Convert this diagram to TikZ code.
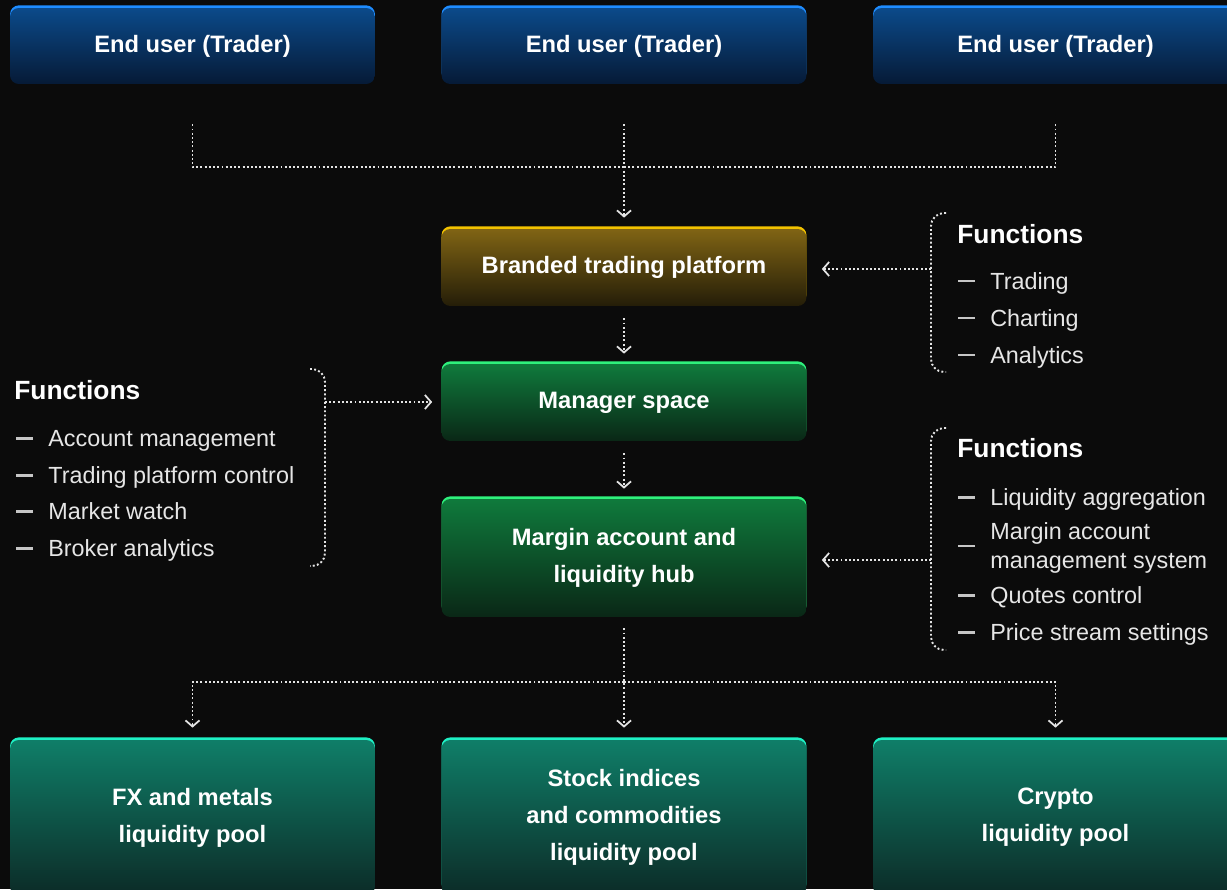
\documentclass[tikz,border=0pt]{standalone}
\usepackage{fontspec}
\setmainfont{Liberation Sans}
\usetikzlibrary{arrows.meta,positioning,calc}

\definecolor{bg}{HTML}{0B0B0B}
\definecolor{usertop}{HTML}{0B4A8A}
\definecolor{userbot}{HTML}{061A36}
\definecolor{userrim}{HTML}{1E8CFF}
\definecolor{goldtop}{HTML}{806414}
\definecolor{goldbot}{HTML}{241D08}
\definecolor{goldrim}{HTML}{F2C200}
\definecolor{greentop}{HTML}{0F7A3C}
\definecolor{greenbot}{HTML}{0A2716}
\definecolor{greenrim}{HTML}{2EF07C}
\definecolor{tealtop}{HTML}{0F7E68}
\definecolor{tealbot}{HTML}{0C2B27}
\definecolor{tealrim}{HTML}{1EF0C4}
\definecolor{linkcol}{HTML}{E4E4E4}
\definecolor{itemcol}{HTML}{E6E6E6}

\begin{document}
\begin{tikzpicture}[x=0.02cm,y=-0.02cm,
  % common options for the boxes:
  box/.style = {rounded corners=5pt, minimum width=7.3cm, align=center,
              text=white, inner sep=0, font=\bfseries\fontsize{13.5}{21}\selectfont},
  userbox/.style = {box, minimum height=1.52cm, top color=usertop, bottom color=userbot,
              preaction={fill=userrim, transform canvas={yshift=1.5pt}}},
  goldbox/.style = {box, minimum height=1.54cm, top color=goldtop, bottom color=goldbot,
              preaction={fill=goldrim, transform canvas={yshift=1.5pt}}},
  greenbox/.style = {box, top color=greentop, bottom color=greenbot,
              preaction={fill=greenrim, transform canvas={yshift=1.5pt}}},
  poolbox/.style = {box, minimum height=3.1cm, top color=tealtop, bottom color=tealbot,
              preaction={fill=tealrim, transform canvas={yshift=1.5pt}}},
  % common options for the connectors:
  link/.style = {draw=linkcol, line width=1.1pt, dash pattern=on 1.1pt off 1.3pt},
  arrowed/.style = {-{Straight Barb[length=3.5pt,width=8pt,line width=1pt]}},
  % common options for the function lists:
  title/.style = {anchor=base west, inner sep=0, text=white,
              font=\bfseries\fontsize{15}{17}\selectfont},
  item/.style = {anchor=base west, inner sep=0, text=itemcol,
              font=\fontsize{13.3}{17}\selectfont},
  dashmark/.style = {draw=gray!45!white, line width=1.7pt}]
\path[use as bounding box, fill=bg] (0,0) rectangle (1227,889);
% boxes
\node[userbox] (u1) at (192.5,46) {End user (Trader)};
\node[userbox] (u2) at (624,46) {End user (Trader)};
\node[userbox] (u3) at (1055.5,46) {End user (Trader)};
\node[goldbox] (btp) at (624,267.5) {Branded trading platform};
\node[greenbox, minimum height=1.54cm] (ms) at (624,402.5) {Manager space};
\node[greenbox, minimum height=2.36cm] (hub) at (624,558) {Margin account and\\liquidity hub};
\node[poolbox] (p1) at (192.5,817.5) {FX and metals\\liquidity pool};
\node[poolbox] (p2) at (624,817.5) {Stock indices\\and commodities\\liquidity pool};
\node[poolbox] (p3) at (1055.5,817.5) {Crypto\\liquidity pool};
% connectors
\coordinate (join) at (624,167);
\coordinate (split) at (624,682);
\draw[link, shorten <=0.8cm] (u1.south) |- (join);
\draw[link, shorten <=0.8cm] (u3.south) |- (join);
\draw[link, arrowed, shorten <=0.8cm, shorten >=0.22cm] (u2.south) -- (btp.north);
\draw[link, arrowed, shorten <=0.24cm, shorten >=0.2cm] (btp.south) -- (ms.north);
\draw[link, arrowed, shorten <=0.24cm, shorten >=0.2cm] (ms.south) -- (hub.north);
\draw[link, arrowed, shorten <=0.22cm, shorten >=0.24cm] (hub.south) -- (p2.north);
\draw[link, arrowed, shorten >=0.24cm] (split) -| (p1.north);
\draw[link, arrowed, shorten >=0.24cm] (split) -| (p3.north);
% functions of the platform
\node[title] (fr1) at (957,243) {Functions};
\node[item] (fr1a) at (990,289) {Trading};
\node[item] (fr1b) at (990,326) {Charting};
\node[item] (fr1c) at (990,363) {Analytics};
\draw[link, rounded corners=0.26cm] (946,213) -- (931,213) -- (931,372) -- (946,372);
\coordinate (fb1) at (931,269);
\draw[link, arrowed, shorten >=0.3cm] (fb1) -- (fb1 -| btp.east);
% functions of the manager space
\node[title] (fl) at (14,399) {Functions};
\node[item] (fla) at (48,446) {Account management};
\node[item] (flb) at (48,483) {Trading platform control};
\node[item] (flc) at (48,519) {Market watch};
\node[item] (fld) at (48,556) {Broker analytics};
\draw[link, rounded corners=0.26cm] (310,369) -- (325,369) -- (325,566) -- (310,566);
\coordinate (fb2) at (325,402);
\draw[link, arrowed, shorten >=0.18cm] (fb2) -- (fb2 -| ms.west);
% functions of the hub
\node[title] (fr2) at (957,457) {Functions};
\node[item] (fr2a) at (990,505) {Liquidity aggregation};
\node[item] (fr2b) at (990,539) {Margin account};
\node[item] (fr2b2) at (990,568) {management system};
\node[item] (fr2c) at (990,603) {Quotes control};
\node[item] (fr2d) at (990,640) {Price stream settings};
\draw[link, rounded corners=0.26cm] (946,428) -- (931,428) -- (931,650) -- (946,650);
\coordinate (fb3) at (931,560);
\draw[link, arrowed, shorten >=0.3cm] (fb3) -- (fb3 -| hub.east);
% list dashes
\draw[dashmark] ([xshift=-0.64cm,yshift=0.16cm]fr1a.base west) -- ++(0.34cm,0);
\draw[dashmark] ([xshift=-0.64cm,yshift=0.16cm]fr1b.base west) -- ++(0.34cm,0);
\draw[dashmark] ([xshift=-0.64cm,yshift=0.16cm]fr1c.base west) -- ++(0.34cm,0);
\draw[dashmark] ([xshift=-0.64cm,yshift=0.16cm]fla.base west) -- ++(0.34cm,0);
\draw[dashmark] ([xshift=-0.64cm,yshift=0.16cm]flb.base west) -- ++(0.34cm,0);
\draw[dashmark] ([xshift=-0.64cm,yshift=0.16cm]flc.base west) -- ++(0.34cm,0);
\draw[dashmark] ([xshift=-0.64cm,yshift=0.16cm]fld.base west) -- ++(0.34cm,0);
\draw[dashmark] ([xshift=-0.64cm,yshift=0.16cm]fr2a.base west) -- ++(0.34cm,0);
\draw[dashmark] ([xshift=-0.64cm,yshift=-0.14cm]fr2b.base west) -- ++(0.34cm,0);
\draw[dashmark] ([xshift=-0.64cm,yshift=0.16cm]fr2c.base west) -- ++(0.34cm,0);
\draw[dashmark] ([xshift=-0.64cm,yshift=0.16cm]fr2d.base west) -- ++(0.34cm,0);
\end{tikzpicture}
\end{document}
